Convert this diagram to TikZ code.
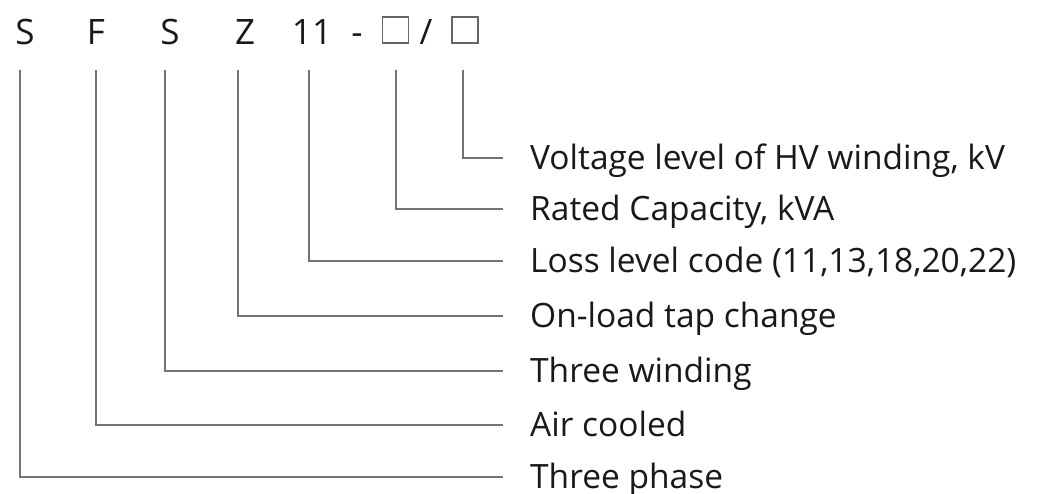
\documentclass[tikz,border=0pt]{standalone}
\usepackage{fontspec}
\setmainfont{Open Sans}
\begin{document}
\begin{tikzpicture}[x=1pt,y=-1pt,
  code/.style={inner sep=0pt,anchor=base,font=\fontsize{35}{40}\selectfont,text=black!90},
  blank/.style={draw=black!60,line width=1.1pt,minimum size=26pt,inner sep=0pt},
  lbl/.style={inner sep=0pt,anchor=west,text height=23pt,text depth=0pt,font=\fontsize{33.5}{38}\selectfont,text=black!90},
  lead/.style={draw=black!55,line width=1.8pt}]
\useasboundingbox (0,0) rectangle (1064,494);
% top code
\node[code] (cS1) at (25,45) {S};
\node[code] (cF) at (96,45) {F};
\node[code] (cS2) at (170,45) {S};
\node[code] (cZ) at (245,45) {Z};
\node[code] (c11) at (312,45) {11};
\node[code] (cdash) at (357,45) {-};
\node[blank] (cb1) at (395.5,30) {};
\node[code] (cslash) at (426,45) {/};
\node[blank] (cb2) at (465,30) {};
% labels
\node[lbl] (l7) at (530,158) {Voltage level of HV winding, kV};
\node[lbl] (l6) at (530,209) {Rated Capacity, kVA};
\node[lbl] (l5) at (530,261) {Loss level code (11,13,18,20,22)};
\node[lbl] (l4) at (530,316) {On-load tap change};
\node[lbl] (l3) at (530,371) {Three winding};
\node[lbl] (l2) at (530,425) {Air cooled};
\node[lbl] (l1) at (530,477) {Three phase};
% line tops
\coordinate (t1) at (20,70);
\coordinate (t2) at (96,70);
\coordinate (t3) at (165,70);
\coordinate (t4) at (238,70);
\coordinate (t5) at (309,70);
\coordinate (t6) at (396,70);
\coordinate (t7) at (463,70);
% leaders
\draw[lead] (t1) |- ([xshift=-27pt]l1.west);
\draw[lead] (t2) |- ([xshift=-27pt]l2.west);
\draw[lead] (t3) |- ([xshift=-27pt]l3.west);
\draw[lead] (t4) |- ([xshift=-27pt]l4.west);
\draw[lead] (t5) |- ([xshift=-27pt]l5.west);
\draw[lead] (t6) |- ([xshift=-27pt]l6.west);
\draw[lead] (t7) |- ([xshift=-27pt]l7.west);
\end{tikzpicture}
\end{document}
